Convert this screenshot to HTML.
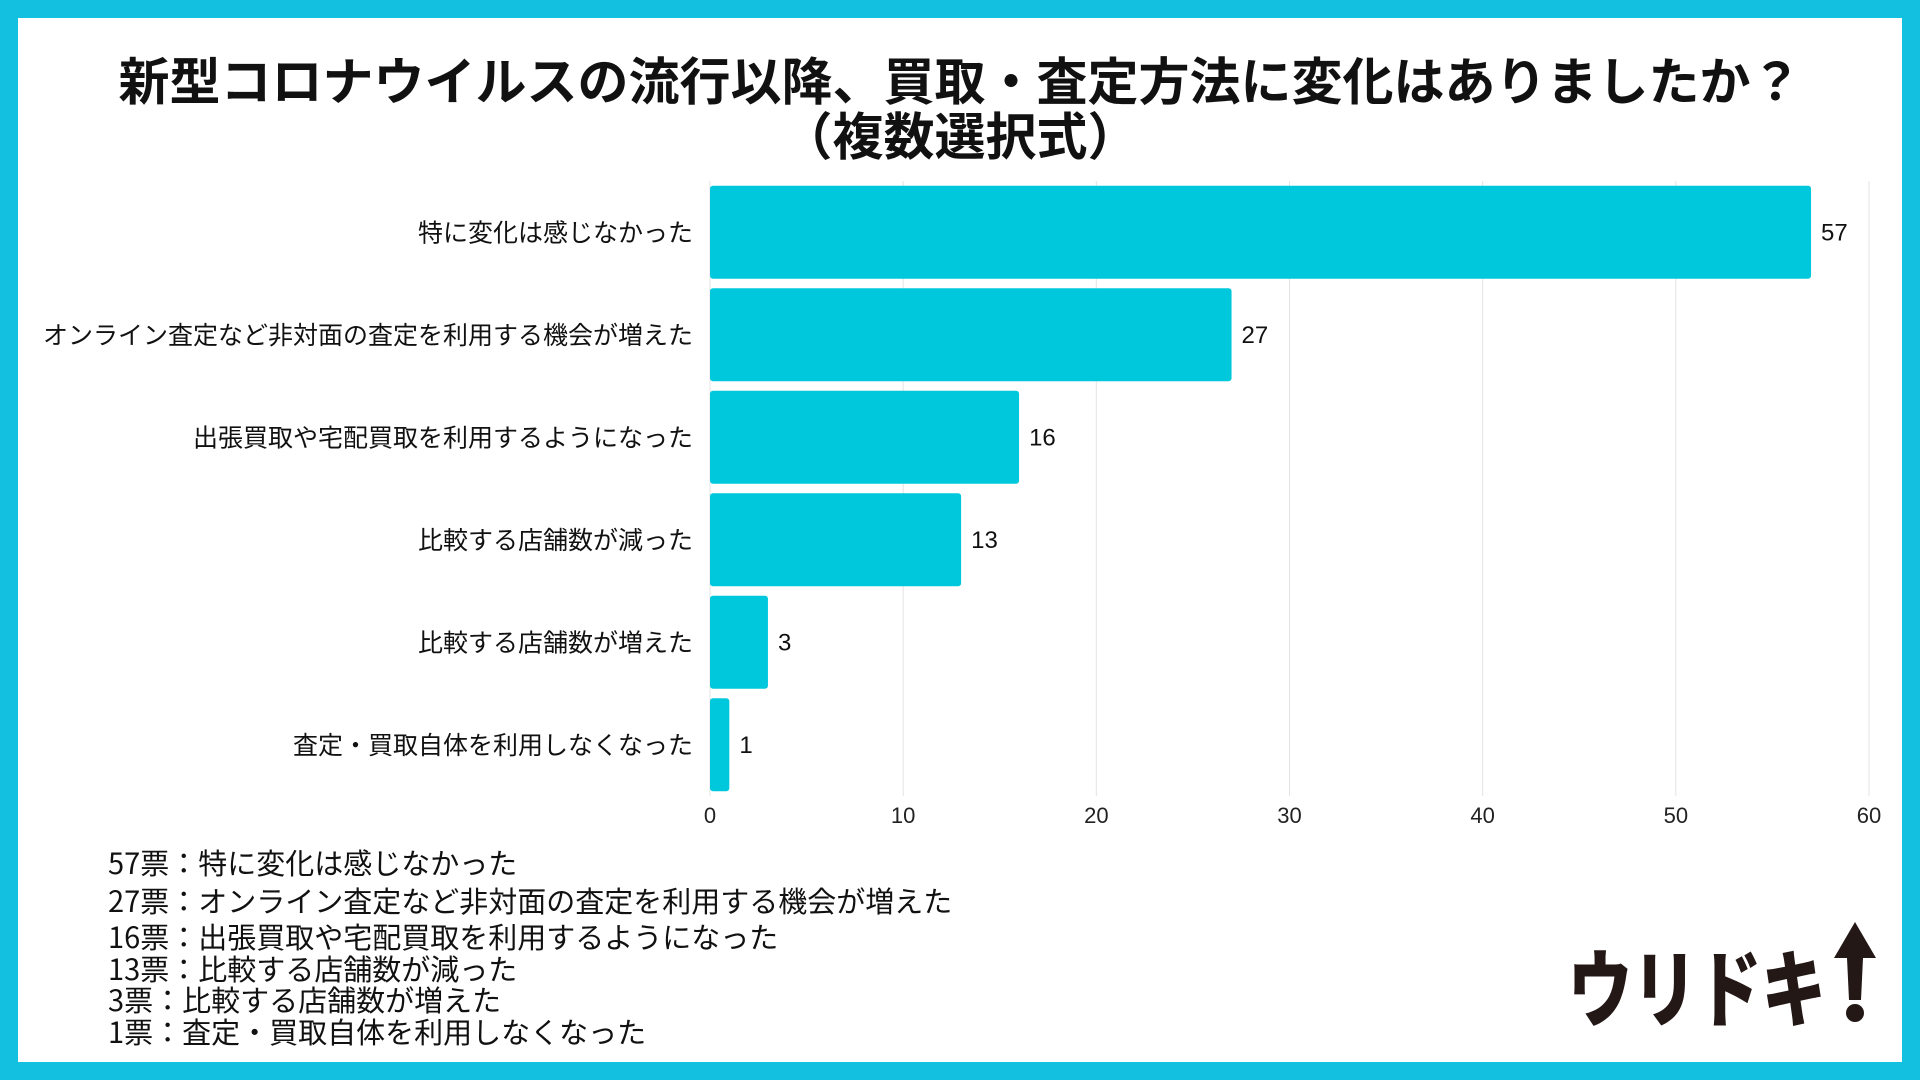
<!DOCTYPE html>
<html><head><meta charset="utf-8"><style>
body{margin:0;width:1920px;height:1080px;overflow:hidden;background:#14c0df;font-family:"Liberation Sans","Noto Sans CJK JP",sans-serif;}
#card{position:absolute;left:18px;top:18px;width:1884px;height:1044px;background:#fff;}
svg{position:absolute;left:0;top:0;}
</style></head><body>
<div id="card"></div>
<svg id="chart" width="1920" height="1080">
<text x="960" y="100" text-anchor="middle" font-size="51" font-weight="bold" fill="#111" font-family="Noto Sans CJK JP, sans-serif">新型コロナウイルスの流行以降、買取・査定方法に変化はありましたか？</text>
<text x="960" y="155" text-anchor="middle" font-size="51" font-weight="bold" fill="#111" font-family="Noto Sans CJK JP, sans-serif">（複数選択式）</text>
<g id="grid"></g><g id="bars"></g><g id="labels"></g>
<g font-size="29" fill="#111" font-family="Noto Sans CJK JP, sans-serif">
<text x="108" y="874">57票：特に変化は感じなかった</text>
<text x="108" y="912">27票：オンライン査定など非対面の査定を利用する機会が増えた</text>
<text x="108" y="948">16票：出張買取や宅配買取を利用するようになった</text>
<text x="108" y="980">13票：比較する店舗数が減った</text>
<text x="108" y="1011">3票：比較する店舗数が増えた</text>
<text x="108" y="1043">1票：査定・買取自体を利用しなくなった</text>
</g>
<g>
<text x="1568" y="1020" font-size="84" font-weight="900" fill="#231815" font-family="Noto Sans CJK JP, sans-serif" textLength="258" lengthAdjust="spacingAndGlyphs">ウリドキ</text>
<polygon points="1855,922 1876,958 1863,958 1861,1000 1849,1000 1847,958 1834,958" fill="#231815"/>
<circle cx="1855" cy="1013" r="9" fill="#231815"/>
</g>
</svg>
<script>
const categories=["特に変化は感じなかった","オンライン査定など非対面の査定を利用する機会が増えた","出張買取や宅配買取を利用するようになった","比較する店舗数が減った","比較する店舗数が増えた","査定・買取自体を利用しなくなった"];
const values=[57,27,16,13,3,1];
const ticks=[0,10,20,30,40,50,60];
const NS="http://www.w3.org/2000/svg";
const x0=710,x1=1869,top0=181,bottom0=796,xmax=60;
const xs=v=>x0+(x1-x0)*v/xmax;
const band=(bottom0-top0)/categories.length;
const ys=i=>top0+band*i;
const bh=93;
function mk(tag,attrs,parent,txt){const e=document.createElementNS(NS,tag);for(const k in attrs)e.setAttribute(k,attrs[k]);if(txt!==undefined)e.textContent=txt;document.getElementById(parent).appendChild(e);return e;}
ticks.forEach(t=>{
 const l=mk('line',{x1:xs(t),x2:xs(t),y1:top0,y2:bottom0,stroke:'#e3e3e3','stroke-width':1},'grid');
 
 
 const tx=mk('text',{x:xs(t),y:823,'text-anchor':'middle','font-size':22,fill:'#222'},'grid',String(t));
 
 
});
categories.forEach((c,i)=>{
 const y=ys(i)+(band-bh)/2;
 const r=mk('rect',{x:x0,y:y,width:xs(values[i])-x0,height:bh,rx:3,fill:'#00c8dc'},'bars');
 
 
 const cl=mk('text',{x:693,y:y+bh/2+9,'text-anchor':'end','font-size':25,fill:'#111','font-family':'Noto Sans CJK JP, sans-serif'},'labels',c);
 
 
 const vl=mk('text',{x:xs(values[i])+10,y:y+bh/2+8,'font-size':24,fill:'#111'},'labels',String(values[i]));
 
 
});
</script>
</body></html>
